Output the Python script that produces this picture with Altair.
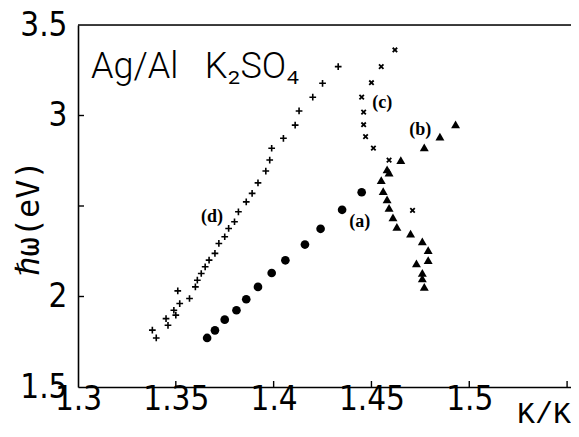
import altair as alt
import pandas as pd

# (a) filled circles
a_x = [1.366, 1.370, 1.375, 1.381, 1.386, 1.392, 1.399, 1.406, 1.416, 1.424, 1.435, 1.445]
a_y = [1.771, 1.813, 1.872, 1.924, 1.985, 2.053, 2.130, 2.200, 2.287, 2.374, 2.479, 2.576]

# (b) filled triangles
b_x = [1.493, 1.485, 1.477, 1.465, 1.458, 1.459, 1.455, 1.456, 1.458, 1.459, 1.461, 1.463,
       1.470, 1.476, 1.479, 1.479, 1.473, 1.476, 1.476, 1.477]
b_y = [2.951, 2.883, 2.824, 2.754, 2.702, 2.685, 2.643, 2.582, 2.537, 2.490, 2.437, 2.385,
       2.348, 2.304, 2.256, 2.201, 2.183, 2.131, 2.100, 2.053]

# (c) small crosses
c_x = [1.462, 1.455, 1.450, 1.445, 1.446, 1.446, 1.447, 1.451, 1.459, 1.471]
c_y = [3.362, 3.270, 3.181, 3.101, 3.019, 2.949, 2.883, 2.820, 2.754, 2.476]

# (d) plus signs
d_x = [1.338, 1.340, 1.346, 1.345, 1.350, 1.349, 1.352, 1.351, 1.357, 1.360, 1.361, 1.363,
       1.365, 1.367, 1.370, 1.372, 1.375, 1.377, 1.380, 1.382, 1.386, 1.389, 1.392, 1.396,
       1.398, 1.399, 1.405, 1.411, 1.413, 1.420, 1.425, 1.433]
d_y = [1.814, 1.771, 1.841, 1.878, 1.897, 1.924, 1.961, 2.031, 1.989, 2.053, 2.090, 2.127,
       2.164, 2.201, 2.238, 2.293, 2.330, 2.376, 2.413, 2.468, 2.523, 2.570, 2.628, 2.693,
       2.754, 2.819, 2.874, 2.947, 3.025, 3.101, 3.178, 3.270]

# curve labels
lab_text = ["(a)", "(b)", "(c)", "(d)"]
lab_x = [1.444, 1.475, 1.4555, 1.3685]
lab_y = [2.413, 2.920, 3.071, 2.440]

x_labels = [1.3, 1.35, 1.4, 1.45, 1.5]
x_ticks = [1.35, 1.4, 1.45, 1.5, 1.55]
y_labels = [1.5, 2, 3, 3.5]
y_ticks = [2, 2.5, 3]

W, H = 493, 362
XDOM = [1.3, 1.552]
YDOM = [1.5, 3.5]
TICKFONT = "'DejaVu Sans Condensed', Roboto, sans-serif"

xs = alt.Scale(domain=XDOM, nice=False, zero=False)
ys = alt.Scale(domain=YDOM, nice=False, zero=False)

xaxis = alt.Axis(values=x_labels, format=".2~f", title=None, ticks=False,
                 labelFlush=False, labelPadding=-4, labelOverlap=False,
                 labelFont=TICKFONT, labelFontSize=33, labelFontWeight=300, labelColor="black",
                 domainColor="black", domainWidth=1.6, grid=False)
yaxis = alt.Axis(values=y_labels, format=".2~f", title=None, ticks=False,
                 labelFlush=False, labelPadding=11, labelOverlap=False,
                 labelFont=TICKFONT, labelFontSize=33, labelFontWeight=300, labelColor="black",
                 domainColor="black", domainWidth=1.6, grid=False)

df_a = pd.DataFrame({"x": a_x, "y": a_y})
df_b = pd.DataFrame({"x": b_x, "y": b_y})
df_c = pd.DataFrame({"x": c_x, "y": c_y})
df_d = pd.DataFrame({"x": d_x, "y": d_y})
df_lab = pd.DataFrame({"x": lab_x, "y": lab_y, "t": lab_text})

base_enc = dict(x=alt.X("x:Q", scale=xs, axis=xaxis), y=alt.Y("y:Q", scale=ys, axis=yaxis))

pa = alt.Chart(df_a).mark_point(shape="circle", filled=True, color="black", size=75, opacity=1).encode(**base_enc)
pb = alt.Chart(df_b).mark_point(shape="triangle-up", filled=True, color="black", size=80, opacity=1).encode(**base_enc)
pc = alt.Chart(df_c).mark_point(shape="M-1,-1L1,1M-1,1L1,-1", filled=False, color="black",
                                size=20, strokeWidth=1.8, opacity=1).encode(**base_enc)
pd_ = alt.Chart(df_d).mark_point(shape="M-1,0L1,0M0,-1L0,1", filled=False, color="black",
                                 size=45, strokeWidth=1.6, opacity=1).encode(**base_enc)

labels = alt.Chart(df_lab).mark_text(font="Liberation Serif", fontWeight="bold", fontSize=18,
                                     color="black").encode(
    x=alt.X("x:Q", scale=xs), y=alt.Y("y:Q", scale=ys), text="t:N")

xt = alt.Chart(pd.DataFrame({"v": x_ticks})).mark_rule(color="black", strokeWidth=1.4).encode(
    x=alt.X("v:Q", scale=xs), y=alt.value(H), y2=alt.value(H - 6))
yt = alt.Chart(pd.DataFrame({"v": y_ticks})).mark_rule(color="black", strokeWidth=1.4).encode(
    y=alt.Y("v:Q", scale=ys), x=alt.value(0), x2=alt.value(6))
top = alt.Chart(pd.DataFrame({"v": [YDOM[1]]})).mark_rule(color="black", strokeWidth=1.6).encode(
    y=alt.Y("v:Q", scale=ys), x=alt.value(0), x2=alt.value(W))

title = alt.Chart(pd.DataFrame({"t": ["Ag/Al\u00a0\u00a0\u00a0K₂SO₄"]})).mark_text(
    font="Roboto", fontWeight=300, fontSize=36, align="left", baseline="alphabetic", color="black").encode(
    x=alt.value(13), y=alt.value(53), text="t:N")

ytitle = alt.Chart(pd.DataFrame({"t": ["ℏω(eV)"]})).mark_text(
    font="DejaVu Sans Mono", fontSize=32, angle=270, align="center", baseline="middle", color="black").encode(
    x=alt.value(-49), y=alt.value(193), text="t:N")

xtitle = alt.Chart(pd.DataFrame({"t": ["K/K"]})).mark_text(
    font="Liberation Mono", fontSize=30, align="right", baseline="alphabetic", color="black").encode(
    x=alt.value(W), y=alt.value(H + 36), text="t:N")

chart = alt.layer(top, xt, yt, pd_, pc, pa, pb, labels, title, ytitle, xtitle).properties(
    width=W, height=H,
    autosize=alt.AutoSizeParams(type="none"),
    padding={"left": 70, "top": 17, "right": 0, "bottom": 42},
).configure_view(stroke=None).configure(background="white")

chart.save("out.html", embed_options={"renderer": "svg", "actions": False})
